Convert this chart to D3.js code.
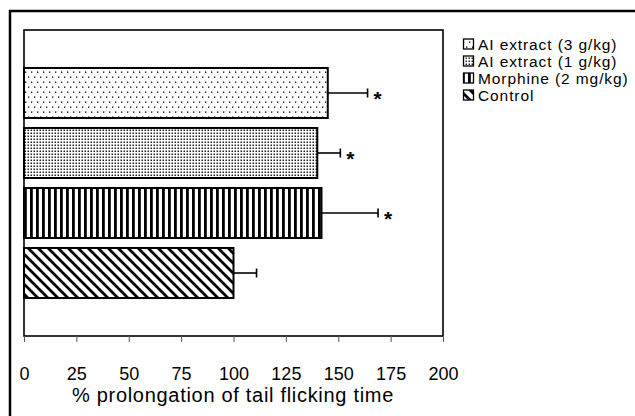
<!DOCTYPE html>
<html>
<head>
<meta charset="utf-8">
<script src="https://cdn.jsdelivr.net/npm/d3@7/dist/d3.min.js"></script>
<style>
  html, body { margin: 0; padding: 0; background: #fff; }
  svg { display: block; font-family: "Liberation Sans", Arial, Helvetica, sans-serif; }
</style>
</head>
<body>
<svg id="chart" width="635" height="416"></svg>
<script>
// Groups, mean % prolongation and error (SEM), significance marks
const categories = ["AI extract (3 g/kg)", "AI extract (1 g/kg)", "Morphine (2 mg/kg)", "Control"];
const values = [145, 140, 142, 100];
const errors = [19, 11, 27, 11];
const significant = [true, true, true, false];
const patternIds = ["sparseDots", "denseDots", "vStripes", "diag"];
const tickValues = [0, 25, 50, 75, 100, 125, 150, 175, 200];
const xTitle = "% prolongation of tail flicking time";

const svg = d3.select("#chart");
const plot = { left: 24, top: 30, right: 443, bottom: 336 };

// Fill patterns
const defs = svg.append("defs");
const p1 = defs.append("pattern").attr("id", "sparseDots").attr("patternUnits", "userSpaceOnUse")
  .attr("width", 6).attr("height", 10);
p1.append("rect").attr("width", 6).attr("height", 10).attr("fill", "#fff");
p1.append("rect").attr("x", 1).attr("y", 1.5).attr("width", 1.3).attr("height", 1.3).attr("fill", "#000");
p1.append("rect").attr("x", 4).attr("y", 6.5).attr("width", 1.3).attr("height", 1.3).attr("fill", "#000");

const p2 = defs.append("pattern").attr("id", "denseDots").attr("patternUnits", "userSpaceOnUse")
  .attr("width", 3).attr("height", 3);
p2.append("rect").attr("width", 3).attr("height", 3).attr("fill", "#fff");
p2.append("rect").attr("x", 0.5).attr("y", 0.5).attr("width", 1.5).attr("height", 1.5).attr("fill", "#222");

const p3 = defs.append("pattern").attr("id", "vStripes").attr("patternUnits", "userSpaceOnUse")
  .attr("width", 6).attr("height", 6);
p3.append("rect").attr("width", 6).attr("height", 6).attr("fill", "#fff");
p3.append("rect").attr("x", 0).attr("width", 2.8).attr("height", 6).attr("fill", "#000");

const p4 = defs.append("pattern").attr("id", "diag").attr("patternUnits", "userSpaceOnUse")
  .attr("width", 10).attr("height", 10);
p4.append("rect").attr("width", 10).attr("height", 10).attr("fill", "#fff");
p4.append("path").attr("d", "M-5,5 L5,15 M0,0 L10,10 M5,-5 L15,5")
  .attr("stroke", "#000").attr("stroke-width", 2.8);

// Outer frame (left and top edges)
svg.append("path")
  .attr("d", "M10,416 L10,11 L635,11")
  .attr("fill", "none").attr("stroke", "#000").attr("stroke-width", 2.5);

// Scales
const x = d3.scaleLinear().domain([0, 200]).range([plot.left, plot.right]);
const y = d3.scaleBand().domain(categories).range([plot.top, plot.bottom])
  .paddingInner(0.1667).paddingOuter(0.633);

// Plot area border
svg.append("rect")
  .attr("x", plot.left).attr("y", plot.top)
  .attr("width", plot.right - plot.left).attr("height", plot.bottom - plot.top)
  .attr("fill", "none").attr("stroke", "#000").attr("stroke-width", 1.6);

// Bars
svg.append("g").selectAll("rect")
  .data(categories)
  .join("rect")
  .attr("x", x(0))
  .attr("y", d => y(d))
  .attr("width", (d, i) => x(values[i]) - x(0))
  .attr("height", y.bandwidth())
  .attr("fill", (d, i) => `url(#${patternIds[i]})`)
  .attr("stroke", "#000").attr("stroke-width", 2);

// Error bars
const eb = svg.append("g").attr("stroke", "#000").attr("stroke-width", 1.6);
categories.forEach((c, i) => {
  const cy = y(c) + y.bandwidth() / 2;
  eb.append("line").attr("x1", x(values[i])).attr("x2", x(values[i] + errors[i]))
    .attr("y1", cy).attr("y2", cy);
  eb.append("line").attr("x1", x(values[i] + errors[i])).attr("x2", x(values[i] + errors[i]))
    .attr("y1", cy - 4.5).attr("y2", cy + 4.5);
});

// Significance stars
svg.append("g").selectAll("text")
  .data(categories.filter((c, i) => significant[i]))
  .join("text")
  .attr("x", d => x(values[categories.indexOf(d)] + errors[categories.indexOf(d)]) + 6)
  .attr("y", d => y(d) + y.bandwidth() / 2 + 13)
  .attr("font-size", 21).attr("font-weight", "bold")
  .text("*");

// X axis
const axis = svg.append("g")
  .attr("transform", `translate(0,${plot.bottom})`)
  .call(d3.axisBottom(x).tickValues(tickValues).tickSize(6).tickFormat(d3.format("d")));
axis.select(".domain").remove();
axis.selectAll(".tick line").attr("stroke", "#555").attr("stroke-width", 1);
axis.selectAll(".tick text")
  .attr("y", 44).attr("dy", 0)
  .attr("font-size", 18).attr("font-family", "'Liberation Sans', Arial, sans-serif")
  .attr("fill", "#000");

// Axis title
svg.append("text")
  .attr("x", (plot.left + plot.right) / 2 - 0.5)
  .attr("y", 402)
  .attr("text-anchor", "middle")
  .attr("font-size", 20)
  .attr("letter-spacing", 0.7)
  .text(xTitle);

// Legend (listed top to bottom in the same order as the bars)
const legend = svg.append("g");
categories.forEach((c, i) => {
  const ly = 44 + i * 17;
  legend.append("rect")
    .attr("x", 463.5).attr("y", ly - 5).attr("width", 10).attr("height", 10)
    .attr("fill", `url(#${patternIds[i]})`)
    .attr("stroke", "#000").attr("stroke-width", 1.3);
  legend.append("text")
    .attr("x", 478).attr("y", ly + 5.5)
    .attr("font-size", 15.5)
    .attr("letter-spacing", 0.9)
    .text(c);
});
</script>
</body>
</html>
